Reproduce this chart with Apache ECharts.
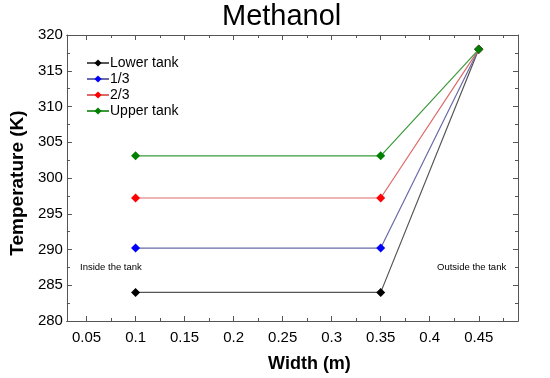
<!DOCTYPE html>
<html>
<head>
<meta charset="utf-8">
<script src="https://cdn.jsdelivr.net/npm/echarts@6/dist/echarts.min.js"></script>
<style>html,body{margin:0;padding:0;background:#fff}#c{width:550px;height:378px}</style>
</head>
<body>
<div id="c"></div>
<script>
var widths = [0.1, 0.35, 0.45];
var seriesNames = ['Lower tank', '1/3', '2/3', 'Upper tank'];
var lowerTank = [284.0, 284.0, 318.0];
var oneThird = [290.2, 290.2, 318.0];
var twoThirds = [297.2, 297.2, 318.0];
var upperTank = [303.1, 303.1, 318.0];
var xMajorTicks = [0.05, 0.1, 0.15, 0.2, 0.25, 0.3, 0.35, 0.4, 0.45];
var xMinorTicks = [0.075, 0.125, 0.175, 0.225, 0.275, 0.325, 0.375, 0.425, 0.475];

var FONT = '"Liberation Sans", Arial, sans-serif';
var symbolColors = ['#000000', '#0000ff', '#ff0000', '#008000'];
var lineColors = ['#555555', '#6a6aa8', '#dd6a6a', '#3a9a3a'];
var values = [lowerTank, oneThird, twoThirds, upperTank];

function pairs(ys) { return widths.map(function (x, i) { return [x, ys[i]]; }); }

var axisLineStyle = { show: true, lineStyle: { color: '#555', width: 1 } };

function xAxisDef(pos, ticks, len, showLabel, extra) {
  var a = {
    type: 'value', position: pos, min: 0.03, max: 0.49,
    axisLine: axisLineStyle,
    axisTick: { show: true, inside: true, length: len, customValues: ticks, lineStyle: { color: '#555' } },
    axisLabel: showLabel ? { show: true, customValues: ticks, fontSize: 15, color: '#000', fontFamily: FONT, margin: 9 } : { show: false },
    splitLine: { show: false }
  };
  if (extra) for (var k in extra) a[k] = extra[k];
  return a;
}

var chart = echarts.init(document.getElementById('c'), null, { renderer: 'canvas' });
chart.setOption({
  animation: false,
  backgroundColor: '#fff',
  title: {
    text: 'Methanol', left: 222, top: 0, padding: [2, 0, 0, 0],
    textStyle: { fontSize: 29, fontWeight: 'normal', color: '#000', fontFamily: FONT }
  },
  grid: { left: 63, right: 32, top: 35, bottom: 57, containLabel: false },
  legend: {
    left: 81, top: 51, orient: 'vertical', itemGap: 2, itemWidth: 22, itemHeight: 9,
    textStyle: { fontSize: 14, color: '#000', fontFamily: FONT, padding: [0, 0, 0, -4] },
    data: seriesNames
  },
  xAxis: [
    xAxisDef('bottom', xMajorTicks, 5, true, {
      name: 'Width (m)', nameLocation: 'middle', nameGap: 34,
      nameTextStyle: { fontSize: 18, fontWeight: 'bold', color: '#000', fontFamily: FONT, padding: [0, 0, 0, 34] }
    }),
    xAxisDef('bottom', xMinorTicks, 3, false),
    xAxisDef('top', xMajorTicks, 5, false),
    xAxisDef('top', xMinorTicks, 3, false)
  ],
  yAxis: [
    {
      type: 'value', position: 'left', min: 280, max: 320, interval: 5,
      name: 'Temperature (K)', nameLocation: 'middle', nameGap: 39,
      nameTextStyle: { fontSize: 19, fontWeight: 'bold', color: '#000', fontFamily: FONT, padding: [0, 10, 0, 0] },
      axisLine: axisLineStyle,
      axisTick: { show: true, inside: true, length: 5, lineStyle: { color: '#555' } },
      minorTick: { show: true, splitNumber: 2, length: 3, lineStyle: { color: '#555' } },
      axisLabel: { fontSize: 15, color: '#000', fontFamily: FONT, margin: 4 },
      splitLine: { show: false }, minorSplitLine: { show: false }
    },
    {
      type: 'value', position: 'right', min: 280, max: 320, interval: 5,
      axisLine: axisLineStyle,
      axisTick: { show: true, inside: true, length: 5, lineStyle: { color: '#555' } },
      minorTick: { show: true, splitNumber: 2, length: 3, lineStyle: { color: '#555' } },
      axisLabel: { show: false },
      splitLine: { show: false }, minorSplitLine: { show: false }
    }
  ],
  series: seriesNames.map(function (n, i) {
    return {
      name: n, type: 'line', xAxisIndex: 0, yAxisIndex: 0,
      data: pairs(values[i]),
      symbol: 'diamond', symbolSize: 9,
      lineStyle: { color: lineColors[i], width: 1.2 },
      itemStyle: { color: symbolColors[i] },
      z: 2 + i
    };
  }),
  graphic: [
    { type: 'text', left: 80, top: 262, style: { text: 'Inside the tank', fontSize: 9.5, fill: '#000', fontFamily: FONT } },
    { type: 'text', left: 437, top: 262, style: { text: 'Outside the tank', fontSize: 9.5, fill: '#000', fontFamily: FONT } }
  ]
});
</script>
</body>
</html>
